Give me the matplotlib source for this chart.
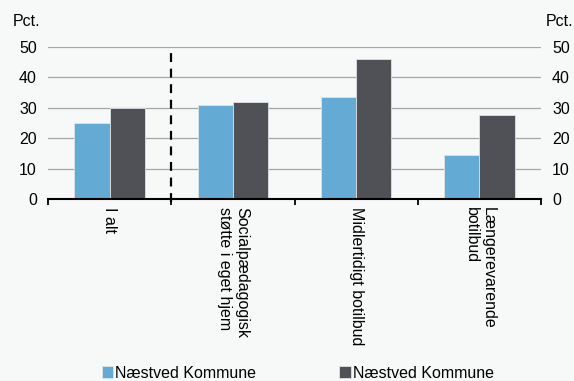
import numpy as np
import matplotlib.pyplot as plt

plt.rcParams['font.family'] = ['Liberation Sans', 'DejaVu Sans']

categories = ["I alt", "Socialpædagogisk\nstøtte i eget hjem", "Midlertidigt botilbud", "Længerevarende\nbotilbud"]
series_names = ["Næstved Kommune", "Næstved Kommune"]
values_a = [25, 31, 33.5, 14.6]
values_b = [30, 31.8, 46, 27.5]
yticks = [0, 10, 20, 30, 40, 50]

bg = "#f7f9f9"
fig = plt.figure(figsize=(5.74, 3.81), dpi=100, facecolor=bg)
ax = fig.add_axes([48 / 574, 1 - 199 / 381, 493 / 574, 152 / 381], facecolor=bg)

x = np.arange(len(categories))
w = 0.285
ax.bar(x - w / 2, values_a, w, color="#63aad5", edgecolor="#dde3e6", linewidth=0.6, label=series_names[0], zorder=3)
ax.bar(x + w / 2, values_b, w, color="#505156", edgecolor="#dde3e6", linewidth=0.6, label=series_names[1], zorder=3)

ax.set_xlim(-0.5, len(categories) - 0.5)
ax.set_ylim(0, 50)
ax.set_yticks(yticks)
ax.grid(axis="y", color="#a6a6a6", linewidth=0.9, zorder=0)
ax.axvline(0.5, ymin=-0.02, ymax=1, color="black", linestyle=(0, (4, 3)), linewidth=1.6, zorder=4, clip_on=False)

for s in ["left", "right", "top"]:
    ax.spines[s].set_visible(False)
ax.spines["bottom"].set_color("black")
ax.spines["bottom"].set_linewidth(1.5)
ax.spines["bottom"].set_zorder(5)

ax.set_xticks(x)
ax.set_xticklabels(categories, rotation=-90, ha="center", va="top", fontsize=11.5, linespacing=1.15)
ax.set_xticks(np.arange(-0.5, len(categories)), minor=True)
ax.tick_params(axis="x", which="major", length=0, pad=6)
ax.tick_params(axis="x", which="minor", length=4, width=1.3, color="black", direction="out")
ax.tick_params(axis="y", length=0, labelsize=11.5, labelright=True, pad=8)
for lab in ax.get_xticklabels():
    lab.set_multialignment("left")

fig.text(13 / 574, 1 - 22 / 381, "Pct.", fontsize=11.5, va="center", ha="left")
fig.text(546 / 574, 1 - 22 / 381, "Pct.", fontsize=11.5, va="center", ha="left")

fig.legend(loc="center", bbox_to_anchor=(0.519, 1 - 373 / 381), ncol=2, frameon=False, fontsize=11.5,
           handlelength=0.7, handleheight=0.7, handletextpad=0.15, columnspacing=5.2)

fig.savefig("out.png", dpi=100, facecolor=bg)
